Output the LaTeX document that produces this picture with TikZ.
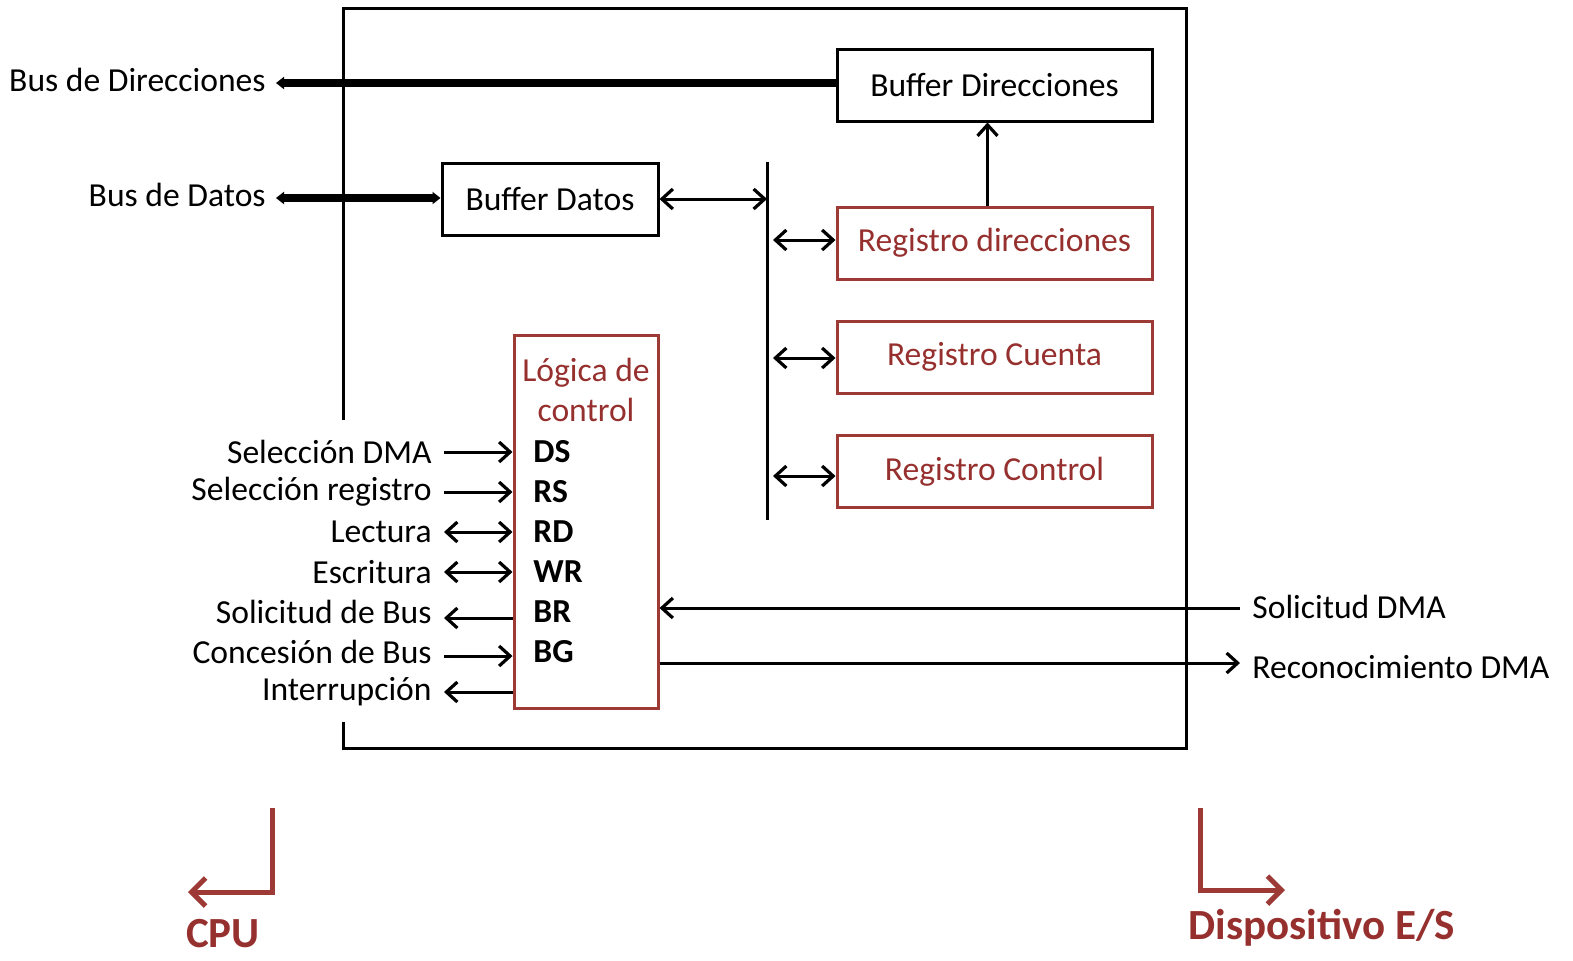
\documentclass[tikz,border=0pt]{standalone}
\usepackage{fontspec}
\setmainfont{Carlito}
\usetikzlibrary{arrows.meta}
\definecolor{regred}{RGB}{158,58,54}
\definecolor{regtext}{RGB}{150,48,46}
\begin{document}
\begin{tikzpicture}[x=0.5pt,y=-0.5pt,
  font=\fontsize{16.8}{19}\selectfont,
  box/.style={draw=black,line width=1.5pt,inner sep=0pt},
  regbox/.style={draw=regred,line width=1.5pt,inner sep=0pt,text=regtext,
    minimum width=157.5pt,minimum height=36pt},
  sig/.style={line width=1.5pt,-{Straight Barb[length=5.5pt,width=10pt,line width=1.6pt]}},
  sigb/.style={line width=1.5pt,{Straight Barb[length=5.5pt,width=10pt,line width=1.6pt]}-{Straight Barb[length=5.5pt,width=10pt,line width=1.6pt]}},
  bus/.style={line width=4pt,-{Triangle[length=4pt,width=6pt]}},
  busb/.style={line width=4pt,{Triangle[length=4pt,width=6pt]}-{Triangle[length=4pt,width=6pt]}},
  siglbl/.style={anchor=east,inner xsep=6pt,inner ysep=0pt},
  pin/.style={anchor=west,inner sep=0pt,font=\fontsize{16.8}{19}\selectfont\bfseries},
  bigarrow/.style={draw=regred,line width=2.5pt,-{Straight Barb[length=7pt,width=14pt,line width=2.5pt]}},
  biglbl/.style={text=regtext,font=\fontsize{21.5}{24}\selectfont\bfseries}]
\useasboundingbox (0,0) rectangle (1573,960);

% controller enclosure (left side open where the CPU signals enter)
\coordinate (encTL) at (343,8);
\coordinate (encTR) at (1186,8);
\coordinate (encBR) at (1186,748);
\coordinate (encBL) at (343,748);
\coordinate (encGapTop) at (343,420);
\coordinate (encGapBot) at (343,722);
\draw[line width=1.5pt] (encGapTop) -- (encTL) -- (encTR) -- (encBR) -- (encBL) -- (encGapBot);

% buffers
\node[box,minimum width=157.5pt,minimum height=36pt] (bdir) at (994.5,85) {Buffer Direcciones};
\node[box,minimum width=108pt,minimum height=36pt] (bdat) at (550,199) {Buffer Datos};

% registers
\node[regbox] (rdir) at (994.5,243) {Registro direcciones};
\node[regbox] (rcnt) at (994.5,357) {Registro Cuenta};
\node[regbox] (rctl) at (994.5,471.5) {Registro Control};

% internal data bus
\coordinate (ibTop) at (767,162);
\coordinate (ibBot) at (767,520);
\draw[line width=1.5pt] (ibTop) -- (ibBot);
\draw[sigb] (bdat.east) -- (bdat.east -| ibTop);
\draw[sigb] ([xshift=3pt]ibTop |- 0,240) -- (rdir.west |- 0,240);
\draw[sigb] ([xshift=3pt]ibTop |- 0,358) -- (rcnt.west |- 0,358);
\draw[sigb] ([xshift=3pt]ibTop |- 0,476) -- (rctl.west |- 0,476);
\draw[sig] ([xshift=-3.5pt]rdir.north) -- ([xshift=-3.5pt]rdir.north |- bdir.south);

% system buses
\node[anchor=east,inner sep=0pt] (lbdir) at (266,80) {Bus de Direcciones};
\node[anchor=east,inner sep=0pt] (lbdat) at (266,195) {Bus de Datos};
\draw[bus] (bdir.west |- 0,83) -- ([xshift=5pt]lbdir.east |- 0,83);
\draw[busb] ([xshift=5pt]lbdat.east |- 0,198) -- (bdat.west |- 0,198);

% control logic
\node[draw=regred,line width=1.5pt,minimum width=72pt,minimum height=186.5pt,inner sep=0pt,
  label={[anchor=north,text=regtext,align=center,inner sep=0pt,yshift=-12pt,
    font=\fontsize{16.8}{20}\selectfont]north:L\'ogica de\\control}] (logic) at (586,521.5) {};

\foreach \nm/\txt/\yy in {DS/DS/452, RS/RS/492, RD/RD/532, WR/WR/572, BR/BR/612, BG/BG/652}
  \node[pin] (p\nm) at (533,\yy) {\txt};

\node[siglbl] (sDS) at (444,452) {Selecci\'on DMA};
\node[siglbl] (sRS) at (444,492) {Selecci\'on registro};
\node[siglbl] (sRD) at (444,532) {Lectura};
\node[siglbl] (sWR) at (444,572) {Escritura};
\node[siglbl] (sBR) at (444,612) {Solicitud de Bus};
\node[siglbl] (sBG) at (444,652) {Concesi\'on de Bus};
\node[siglbl] (sIN) at (444,692) {Interrupci\'on};

\draw[sig]  (sDS.east) -- (sDS.east -| logic.west);
\draw[sig]  (sRS.east) -- (sRS.east -| logic.west);
\draw[sigb] (sRD.east) -- (sRD.east -| logic.west);
\draw[sigb] (sWR.east) -- (sWR.east -| logic.west);
\draw[sig]  ([yshift=-3pt]sBR.east -| logic.west) -- ([yshift=-3pt]sBR.east);
\draw[sig]  ([yshift=-2pt]sBG.east) -- ([yshift=-2pt]sBG.east -| logic.west);
\draw[sig]  (sIN.east -| logic.west) -- (sIN.east);

% DMA handshake with the I/O device
\node[anchor=west,inner sep=0pt] (sdma) at (1252,607) {Solicitud DMA};
\node[anchor=west,inner sep=0pt] (rdma) at (1252,667) {Reconocimiento DMA};
\coordinate (sdmaEnd) at (1240,608);
\coordinate (rdmaEnd) at (1240,663);
\draw[sig] (sdmaEnd) -- (sdmaEnd -| logic.east);
\draw[sig] (rdmaEnd -| logic.east) -- (rdmaEnd);

% sides
\node[biglbl] (cpu) at (223,934) {CPU};
\node[biglbl] (dev) at (1322,928) {Dispositivo E/S};
\coordinate (cpuA) at (272,808);
\coordinate (cpuB) at (272,892);
\coordinate (cpuC) at (188,892);
\draw[bigarrow] (cpuA) -- (cpuB) -- (cpuC);
\coordinate (devA) at (1200,808);
\coordinate (devB) at (1200,890);
\coordinate (devC) at (1285,890);
\draw[bigarrow] (devA) -- (devB) -- (devC);
\end{tikzpicture}
\end{document}
